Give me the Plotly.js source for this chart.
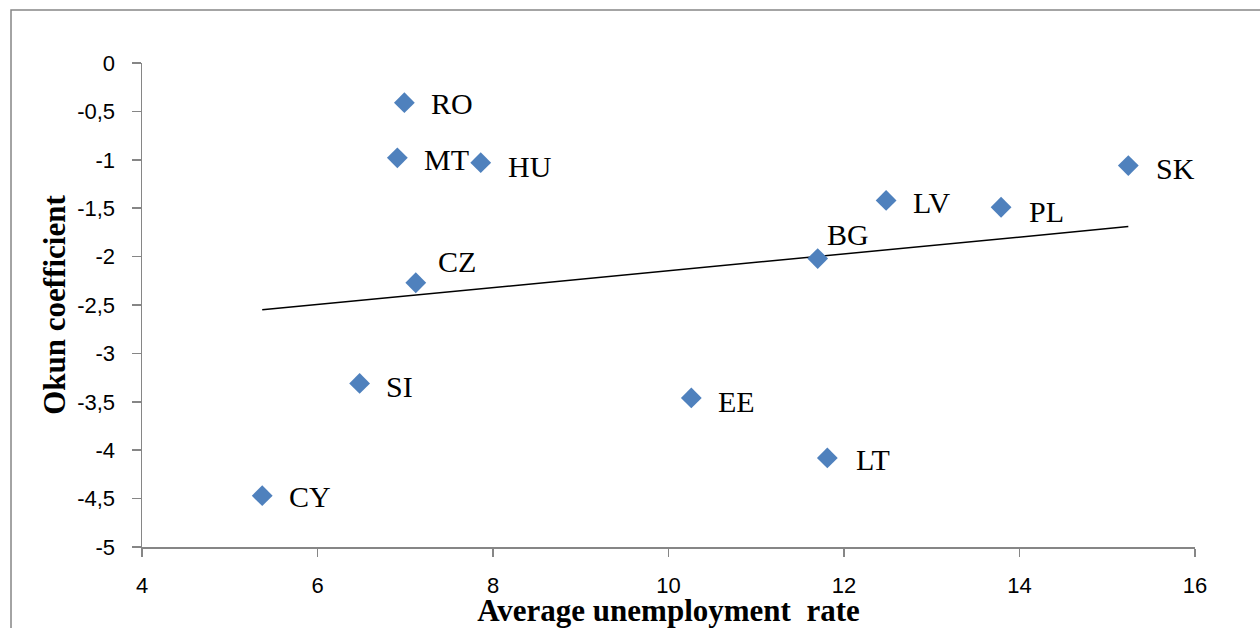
<!DOCTYPE html>
<html>
<head>
<meta charset="utf-8">
<script src="https://cdn.plot.ly/plotly-3.0.1.min.js"></script>
<style>
html,body{margin:0;padding:0;background:#fff;}
#chart{width:1260px;height:628px;}
</style>
</head>
<body>
<div id="chart"></div>
<script>
// Data
var countries = ["RO","MT","HU","CZ","SI","CY","EE","LT","BG","LV","PL","SK"];
var unemployment = [6.99, 6.91, 7.86, 7.12, 6.48, 5.37, 10.26, 11.81, 11.70, 12.48, 13.79, 15.24];
var okun = [-0.41, -0.98, -1.03, -2.27, -3.31, -4.47, -3.46, -4.08, -2.02, -1.42, -1.49, -1.06];

// Linear trend line end points
var trendX = [5.37, 15.24];
var trendY = [-2.55, -1.69];

// Tick labels
var yTickVals = [0, -0.5, -1, -1.5, -2, -2.5, -3, -3.5, -4, -4.5, -5];
var yTickText = ["0", "-0,5", "-1", "-1,5", "-2", "-2,5", "-3", "-3,5", "-4", "-4,5", "-5"];
var xTickVals = [4, 6, 8, 10, 12, 14, 16];
var xTickText = ["4", "6", "8", "10", "12", "14", "16"];

// Label offsets (pixels, style only)
var labelXShift = [25, 25, 25, 20, 24, 25, 25, 27, 7, 25, 26, 26];
var labelYShift = [-1, -2, -4, 21, -3, -1, -4, -2, 24, -2, -4, -3];

var annotations = countries.map(function (c, i) {
  return {
    x: unemployment[i], y: okun[i], xref: "x", yref: "y",
    text: c, showarrow: false, xanchor: "left", yanchor: "middle",
    xshift: labelXShift[i], yshift: labelYShift[i],
    font: {family: "Liberation Serif, Times New Roman, serif", size: 30, color: "#000"}
  };
});

var traces = [
  {
    x: trendX, y: trendY, mode: "lines", type: "scatter",
    line: {color: "#000", width: 1.5}, hoverinfo: "skip", showlegend: false
  },
  {
    x: unemployment, y: okun, mode: "markers", type: "scatter",
    text: countries,
    marker: {symbol: "diamond", size: 16, color: "#4F81BD", line: {width: 0}},
    showlegend: false
  }
];

var axisFont = {family: "Liberation Sans, Arial, sans-serif", size: 22, color: "#000"};
var titleFont = {family: "Liberation Serif, Times New Roman, serif", size: 31, color: "#000", weight: "bold"};

var layout = {
  width: 1260, height: 628,
  paper_bgcolor: "#fff", plot_bgcolor: "#fff",
  margin: {l: 142, r: 65, t: 63, b: 81, pad: 0},
  showlegend: false,
  xaxis: {
    range: [4, 16], tickvals: xTickVals, ticktext: xTickText,
    showgrid: false, zeroline: false,
    showline: true, linecolor: "#868686", linewidth: 1.5,
    ticks: "outside", ticklen: 8, tickcolor: "#868686", tickwidth: 1.5,
    tickfont: axisFont, ticklabelstandoff: 10,
    title: {text: "Average unemployment  rate", font: titleFont, standoff: 9},
    automargin: false
  },
  yaxis: {
    range: [-5, 0], tickvals: yTickVals, ticktext: yTickText,
    showgrid: false, zeroline: false,
    showline: true, linecolor: "#868686", linewidth: 1.5,
    ticks: "outside", ticklen: 9, tickcolor: "#868686", tickwidth: 1.5,
    tickfont: axisFont, ticklabelstandoff: 12,
    title: {text: "Okun coefficient", font: titleFont, standoff: 2},
    automargin: false
  },
  annotations: annotations,
  shapes: [
    {type: "rect", xref: "paper", yref: "paper",
     x0: -0.1244, x1: 1.2, y0: -0.3, y1: 1.1095,
     line: {color: "#868686", width: 1.5}, fillcolor: "rgba(0,0,0,0)", layer: "below"}
  ]
};

Plotly.newPlot("chart", traces, layout, {displayModeBar: false, staticPlot: true});
</script>
</body>
</html>
